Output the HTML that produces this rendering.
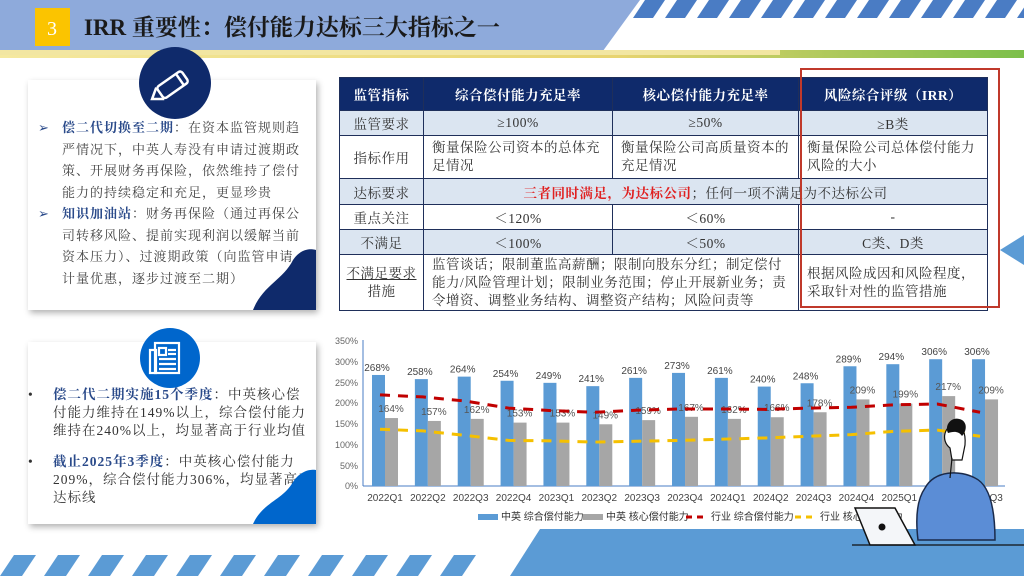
<!DOCTYPE html>
<html><head><meta charset="utf-8"><style>
*{margin:0;padding:0;box-sizing:border-box}
body{width:1024px;height:576px;overflow:hidden;background:#fff;position:relative;font-family:"Liberation Serif","Noto Serif CJK SC",serif}
.abs{position:absolute}
table{border-collapse:collapse;position:absolute;left:339px;top:77px;width:649px;font-size:13.5px;color:#333;letter-spacing:0.5px;table-layout:fixed}
td,th{border:1px solid #1f2f5a;text-align:center;padding:0 8px}
th{background:#0f2a6b;color:#fff;font-weight:bold;height:33px;font-size:13.5px}
tr.a td{background:#dbe5f1}
tr.b td{background:#fff}
td.l{text-align:left;line-height:18px}
.panel{position:absolute;background:#fff;box-shadow:2px 3px 6px rgba(0,0,0,.3);overflow:hidden}
.ptxt{font-size:13px;line-height:21.5px;color:#444;letter-spacing:1px;white-space:nowrap}
.bl{color:#2a4a8a;font-weight:bold}
</style></head><body>
<svg class="abs" style="left:0;top:0" width="1024" height="576">
<defs><linearGradient id="g1" x1="0" x2="1"><stop offset="0" stop-color="#f5e9a0"/><stop offset="0.6" stop-color="#e8d470"/><stop offset="1" stop-color="#7cbf4a"/></linearGradient></defs>
<polygon points="0,0 640,0 600,55 0,55" fill="#8eaadb"/>
<rect x="0" y="50" width="1024" height="8" fill="url(#g1)"/>
<rect x="0" y="50" width="780" height="5" fill="#f2e6a2"/>
<g fill="#4a7cc4">
<polygon points="645,0 665,0 653,18 633,18"/><polygon points="677,0 697,0 685,18 665,18"/><polygon points="709,0 729,0 717,18 697,18"/><polygon points="741,0 761,0 749,18 729,18"/><polygon points="773,0 793,0 781,18 761,18"/><polygon points="805,0 825,0 813,18 793,18"/><polygon points="837,0 857,0 845,18 825,18"/><polygon points="869,0 889,0 877,18 857,18"/><polygon points="901,0 921,0 909,18 889,18"/><polygon points="933,0 953,0 941,18 921,18"/><polygon points="965,0 985,0 973,18 953,18"/><polygon points="997,0 1017,0 1005,18 985,18"/><polygon points="1029,0 1049,0 1037,18 1017,18"/>
</g>
<rect x="35" y="8" width="35" height="38" fill="#fbc400"/>
<text x="52" y="35" fill="#fff" font-size="20" text-anchor="middle" font-family="Liberation Serif">3</text>
<text x="84" y="35" fill="#1a1a1a" font-size="23" font-weight="bold" font-family="Liberation Serif,Noto Serif CJK SC,serif">IRR 重要性：偿付能力达标三大指标之一</text>
<g fill="#5b9bd5">
<polygon points="540,529 1024,529 1024,576 510,576"/>
<polygon points="14,555 36,555 22,576 0,576"/><polygon points="58,555 80,555 66,576 44,576"/><polygon points="102,555 124,555 110,576 88,576"/><polygon points="146,555 168,555 154,576 132,576"/><polygon points="190,555 212,555 198,576 176,576"/><polygon points="234,555 256,555 242,576 220,576"/><polygon points="278,555 300,555 286,576 264,576"/><polygon points="322,555 344,555 330,576 308,576"/><polygon points="366,555 388,555 374,576 352,576"/><polygon points="410,555 432,555 418,576 396,576"/><polygon points="454,555 476,555 462,576 440,576"/>
</g>
<polygon points="1000,250 1024,235 1024,265" fill="#5b9bd5"/>
</svg>

<div class="panel" style="left:28px;top:80px;width:288px;height:230px">
<div class="abs ptxt" style="left:10px;top:37px">
<div style="padding-left:24px;position:relative"><span style="position:absolute;left:0;color:#2a4a8a">➢</span><span class="bl">偿二代切换至二期</span>：在资本监管规则趋<br>严情况下，中英人寿没有申请过渡期政<br>策、开展财务再保险，依然维持了偿付<br>能力的持续稳定和充足，更显珍贵</div>
<div style="padding-left:24px;position:relative"><span style="position:absolute;left:0;color:#2a4a8a">➢</span><span class="bl">知识加油站</span>：财务再保险（通过再保公<br>司转移风险、提前实现利润以缓解当前<br>资本压力）、过渡期政策（向监管申请<br>计量优惠，逐步过渡至二期）</div>
</div>
<svg class="abs" style="left:0;top:0" width="288" height="230"><path d="M225,230 C235,205 255,200 265,180 C275,165 288,170 288,170 L288,230Z" fill="#0f2a6b"/></svg>
</div>
<div class="panel" style="left:28px;top:342px;width:288px;height:182px">
<div class="abs ptxt" style="left:0;top:44px;color:#333;line-height:18px;font-size:13.5px">
<div style="padding-left:25px;position:relative"><span style="position:absolute;left:0">•</span><span class="bl">偿二代二期实施15个季度</span>：中英核心偿<br>付能力维持在149%以上，综合偿付能力<br>维持在240%以上，均显著高于行业均值</div>
<div style="padding-left:25px;position:relative;margin-top:13px"><span style="position:absolute;left:0">•</span><span class="bl">截止2025年3季度</span>：中英核心偿付能力<br>209%，综合偿付能力306%，均显著高于<br>达标线</div>
</div>
<svg class="abs" style="left:0;top:0" width="288" height="182"><path d="M225,182 C235,160 255,158 265,140 C275,125 288,128 288,128 L288,182Z" fill="#0066cc"/></svg>
</div>
<svg class="abs" style="left:0;top:0" width="330" height="400">
<circle cx="175" cy="83" r="36" fill="#0f2a6b"/>
<g transform="translate(175,83) rotate(-35)" fill="none" stroke="#fff" stroke-width="2.5"><rect x="-18" y="-7" width="30" height="14" rx="3"/><path d="M-18,-7 L-28,0 L-18,7"/><line x1="6" y1="-7" x2="6" y2="7"/></g>
<circle cx="170" cy="358" r="30" fill="#0066cc"/>
<g fill="none" stroke="#fff" stroke-width="2.2"><rect x="155" y="343" width="24" height="30"/><rect x="150" y="350" width="6" height="23"/><rect x="159" y="348" width="7" height="7"/><line x1="168" y1="350" x2="176" y2="350"/><line x1="168" y1="354" x2="176" y2="354"/><line x1="159" y1="359" x2="176" y2="359"/><line x1="159" y1="364" x2="176" y2="364"/><line x1="159" y1="369" x2="176" y2="369"/></g>
</svg>

<table>
<colgroup><col style="width:84px"><col style="width:189px"><col style="width:186px"><col></colgroup>
<tr><th>监管指标</th><th>综合偿付能力充足率</th><th>核心偿付能力充足率</th><th>风险综合评级（IRR）</th></tr>
<tr class="a" style="height:25px"><td>监管要求</td><td>≥100%</td><td>≥50%</td><td>≥B类</td></tr>
<tr class="b" style="height:43px"><td>指标作用</td><td class="l">衡量保险公司资本的总体充足情况</td><td class="l">衡量保险公司高质量资本的充足情况</td><td class="l">衡量保险公司总体偿付能力风险的大小</td></tr>
<tr class="a" style="height:26px"><td>达标要求</td><td colspan="3"><span style="color:#e02020;font-weight:bold">三者同时满足，为达标公司</span>；任何一项不满足为不达标公司</td></tr>
<tr class="b" style="height:25px"><td>重点关注</td><td>＜120%</td><td>＜60%</td><td>-</td></tr>
<tr class="a" style="height:25px"><td>不满足</td><td>＜100%</td><td>＜50%</td><td>C类、D类</td></tr>
<tr class="b" style="height:56px"><td style="line-height:18px;padding:0 2px"><u>不满足要求</u><br>措施</td><td colspan="2" class="l">监管谈话；限制董监高薪酬；限制向股东分红；制定偿付能力/风险管理计划；限制业务范围；停止开展新业务；责令增资、调整业务结构、调整资产结构；风险问责等</td><td class="l">根据风险成因和风险程度，采取针对性的监管措施</td></tr>
</table>
<div class="abs" style="left:800px;top:68px;width:200px;height:240px;border:2px solid #c0392b"></div>

<svg class="abs" style="left:0;top:0" width="1024" height="576" font-family="Liberation Sans,Noto Sans CJK SC,sans-serif">
<g font-size="9" fill="#666" text-anchor="end">
<text x="358" y="344">350%</text><text x="358" y="365">300%</text><text x="358" y="386">250%</text><text x="358" y="406">200%</text><text x="358" y="427">150%</text><text x="358" y="448">100%</text><text x="358" y="469">50%</text><text x="358" y="489">0%</text>
</g>
<line x1="363" y1="340" x2="363" y2="486" stroke="#4a7cc4"/>
<line x1="363" y1="486" x2="1005" y2="486" stroke="#4a7cc4"/>
<g id="bars"></g>
<g font-size="10" fill="#444" text-anchor="middle" id="xl"></g>
<polyline fill="none" stroke="#c00000" stroke-width="3" stroke-dasharray="10,8" id="red"/>
<polyline fill="none" stroke="#f5c000" stroke-width="3" stroke-dasharray="10,8" id="yel"/>
<g font-size="10" fill="#333">
<rect x="478" y="514" width="20" height="6" fill="#5b9bd5"/><text x="501" y="520">中英 综合偿付能力</text>
<rect x="583" y="514" width="20" height="6" fill="#a6a6a6"/><text x="606" y="520">中英 核心偿付能力</text>
<line x1="686" y1="517" x2="708" y2="517" stroke="#c00000" stroke-width="3" stroke-dasharray="6,5"/><text x="711" y="520">行业 综合偿付能力</text>
<line x1="795" y1="517" x2="817" y2="517" stroke="#f5c000" stroke-width="3" stroke-dasharray="6,5"/><text x="820" y="520">行业 核心偿付能力</text>
</g>
<path d="M925,488 C935,470 960,470 975,478 C990,485 995,510 995,540 L918,540 C915,515 918,498 925,488Z" fill="#5b8dd6" stroke="#1a2a4a" stroke-width="1.5"/>
<path d="M950,448 C940,440 945,425 955,425 C962,425 966,432 965,445 L962,460 L952,460Z" fill="#fff" stroke="#111" stroke-width="1.2"/>
<path d="M948,433 C944,425 952,415 962,420 C968,424 966,432 962,436 C958,430 952,432 948,433Z" fill="#111"/>
<line x1="952" y1="458" x2="950" y2="478" stroke="#111" stroke-width="1.2"/>
<polygon points="855,508 895,508 915,545 870,545" fill="#f4f6f9" stroke="#111" stroke-width="1.5"/>
<circle cx="882" cy="527" r="3.5" fill="#111"/>
<line x1="852" y1="545" x2="1024" y2="545" stroke="#111" stroke-width="1.2"/>
</svg>
<script>
var b=[268,258,264,254,249,241,261,273,261,240,248,289,294,306,306],g=[164,157,162,153,153,149,159,167,162,166,178,209,199,217,209],
r=[220,215,205,188,182,178,183,186,186,185,188,190,196,198,178],yv=[137,133,122,110,109,106,108,110,113,116,120,124,132,135,120],
q=['2022Q1','2022Q2','2022Q3','2022Q4','2023Q1','2023Q2','2023Q3','2023Q4','2024Q1','2024Q2','2024Q3','2024Q4','2025Q1','2025Q2','2025Q3'];
function Y(v){return 486-v*0.4143}
var s='',t='',rp=[],yp=[];
for(var i=0;i<15;i++){var c=385+42.86*i;
s+='<rect x="'+(c-13)+'" y="'+Y(b[i])+'" width="13" height="'+(486-Y(b[i]))+'" fill="#5b9bd5"/>';
s+='<rect x="'+c+'" y="'+Y(g[i])+'" width="13" height="'+(486-Y(g[i]))+'" fill="#a6a6a6"/>';
s+='<text x="'+(c-8)+'" y="'+(Y(b[i])-4)+'" font-size="10" fill="#444" text-anchor="middle">'+b[i]+'%</text>';
s+='<text x="'+(c+6)+'" y="'+(Y(g[i])-6)+'" font-size="10" fill="#555" text-anchor="middle">'+g[i]+'%</text>';
t+='<text x="'+c+'" y="501">'+q[i]+'</text>';
rp.push((c-5)+','+Y(r[i]));yp.push((c-5)+','+Y(yv[i]));}
document.getElementById('bars').innerHTML=s;document.getElementById('xl').innerHTML=t;
document.getElementById('red').setAttribute('points',rp.join(' '));document.getElementById('yel').setAttribute('points',yp.join(' '));
</script>
</body></html>
